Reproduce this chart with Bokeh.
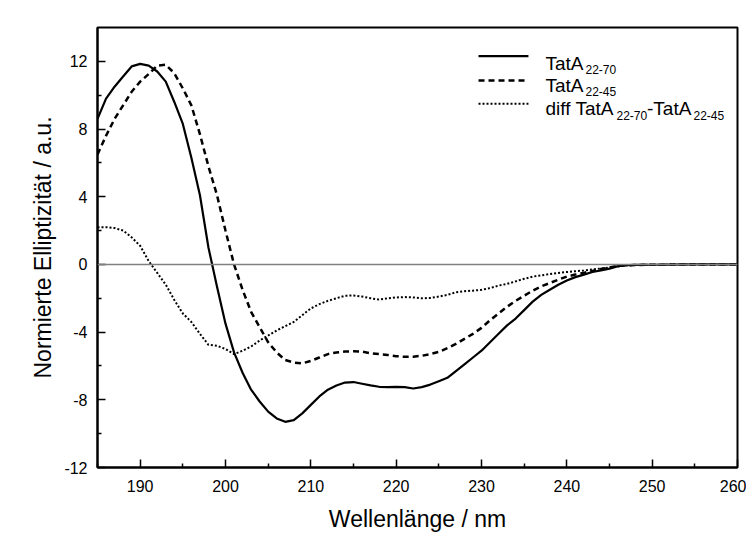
from bokeh.plotting import figure
from bokeh.models import Range1d, FixedTicker, Span, Label
from bokeh.embed import file_html
from bokeh.resources import INLINE

# ---- data ----
wavelength = list(range(185, 249)) + [250, 252, 255, 260]

tata_22_70 = [8.6, 9.8, 10.5, 11.1, 11.7, 11.85, 11.75, 11.4, 10.8, 9.6,
              8.3, 6.3, 4.1, 1.0, -1.3, -3.5, -5.2, -6.4, -7.4, -8.1,
              -8.7, -9.1, -9.3, -9.2, -8.8, -8.3, -7.8, -7.4, -7.15, -6.98,
              -6.95, -7.05, -7.15, -7.23, -7.25, -7.23, -7.25, -7.33, -7.25, -7.1,
              -6.9, -6.7, -6.3, -5.9, -5.5, -5.1, -4.6, -4.1, -3.6, -3.2,
              -2.7, -2.2, -1.8, -1.5, -1.2, -0.95, -0.75, -0.6, -0.45, -0.35,
              -0.25, -0.1, -0.05, -0.03, -0.02, -0.01, 0.0, 0.0]

tata_22_45 = [6.5, 7.6, 8.6, 9.4, 10.2, 10.8, 11.25, 11.75, 11.8, 11.3,
              10.4, 9.4, 7.7, 5.8, 4.1, 2.0, 0.0, -1.5, -2.8, -3.7,
              -4.6, -5.2, -5.65, -5.8, -5.85, -5.7, -5.5, -5.3, -5.2, -5.15,
              -5.13, -5.15, -5.25, -5.3, -5.35, -5.42, -5.46, -5.45, -5.4, -5.3,
              -5.17, -4.95, -4.7, -4.4, -4.1, -3.75, -3.3, -2.9, -2.5, -2.15,
              -1.85, -1.55, -1.3, -1.1, -0.9, -0.72, -0.6, -0.5, -0.38, -0.27,
              -0.18, -0.08, -0.05, -0.03, -0.02, -0.01, 0.0, 0.0]

diff_values = [2.2, 2.2, 2.15, 2.0, 1.6, 1.1, 0.2, -0.5, -1.2, -2.1,
               -2.9, -3.4, -4.1, -4.75, -4.8, -5.0, -5.3, -5.1, -4.85, -4.5,
               -4.2, -3.9, -3.65, -3.4, -3.0, -2.6, -2.35, -2.15, -2.0, -1.85,
               -1.83, -1.9, -2.0, -2.08, -2.0, -1.95, -1.93, -1.95, -2.0, -1.98,
               -1.9, -1.8, -1.65, -1.58, -1.55, -1.5, -1.4, -1.25, -1.15, -1.0,
               -0.85, -0.72, -0.65, -0.57, -0.5, -0.45, -0.4, -0.36, -0.3, -0.24,
               -0.18, -0.12, -0.06, -0.03, -0.02, -0.01, 0.0, 0.0]

x_major = [190, 200, 210, 220, 230, 240, 250, 260]
x_minor = [185, 195, 205, 215, 225, 235, 245, 255]
y_major = [-12, -8, -4, 0, 4, 8, 12]
y_minor = [-10, -6, -2, 2, 6, 10]

FONT = "Liberation Sans"

p = figure(width=746, height=534, output_backend="svg", toolbar_location=None,
           x_range=Range1d(185, 260), y_range=Range1d(-12, 14),
           min_border_left=97, min_border_right=9, min_border_top=27, min_border_bottom=66)
p.background_fill_color = "white"
p.border_fill_color = "white"
p.xgrid.visible = False
p.ygrid.visible = False
p.outline_line_color = "black"
p.outline_line_width = 2

for ax, maj, mnr in ((p.xaxis[0], x_major, x_minor), (p.yaxis[0], y_major, y_minor)):
    ax.ticker = FixedTicker(ticks=maj, minor_ticks=mnr)
    ax.major_label_overrides = {v: str(v) for v in maj}
    ax.axis_line_color = "black"
    ax.axis_line_width = 2
    ax.major_tick_in = 8
    ax.major_tick_out = 0
    ax.minor_tick_in = 4
    ax.minor_tick_out = 0
    ax.major_tick_line_width = 1.5
    ax.minor_tick_line_width = 1.5
    ax.major_label_text_font = FONT
    ax.major_label_text_font_size = "16px"
    ax.major_label_text_color = "black"
    ax.axis_label_text_font = FONT
    ax.axis_label_text_font_style = "normal"
    ax.axis_label_text_font_size = "23px"
    ax.axis_label_text_color = "black"

p.xaxis.axis_label = "Wellenlänge / nm"
p.yaxis.axis_label = "Normierte Elliptizität / a.u."
p.xaxis.major_label_standoff = 12
p.xaxis.axis_label_standoff = 11
p.yaxis.major_label_standoff = 10
p.yaxis.axis_label_standoff = 5

p.add_layout(Span(location=0, dimension="width", line_color="#808080", line_width=1.5))

p.line(wavelength, tata_22_70, line_color="black", line_width=2.2, line_join="round")
p.line(wavelength, tata_22_45, line_color="black", line_width=2.5, line_dash="6 4")
p.line(wavelength, diff_values, line_color="black", line_width=2, line_dash="2 2")

# ---- manual legend ----
leg_x0, leg_x1 = 229.65, 235.5
p.line([leg_x0, leg_x1], [12.31, 12.31], line_color="black", line_width=2.2)
p.line([leg_x0, leg_x1], [10.875, 10.875], line_color="black", line_width=2.5, line_dash="6 4")
p.line([leg_x0, leg_x1], [9.5, 9.5], line_color="black", line_width=2, line_dash="2 2")

tx = 237.5
def lab(text, y, xoff, size):
    p.add_layout(Label(x=tx, y=y, x_offset=xoff, text=text, text_font=FONT,
                       text_font_size=size, text_font_style="normal",
                       text_color="black", text_baseline="alphabetic"))

lab("TatA", 11.9, 0, "19px")
lab("22-70", 11.51, 40, "12px")
lab("TatA", 10.58, 0, "19px")
lab("22-45", 10.19, 40, "12px")
lab("diff TatA", 9.21, 0, "19px")
lab("22-70", 8.8, 71, "12px")
lab("-TatA", 9.21, 101.5, "19px")
lab("22-45", 8.8, 148, "12px")

open("out.html", "w").write(file_html(p, INLINE))
